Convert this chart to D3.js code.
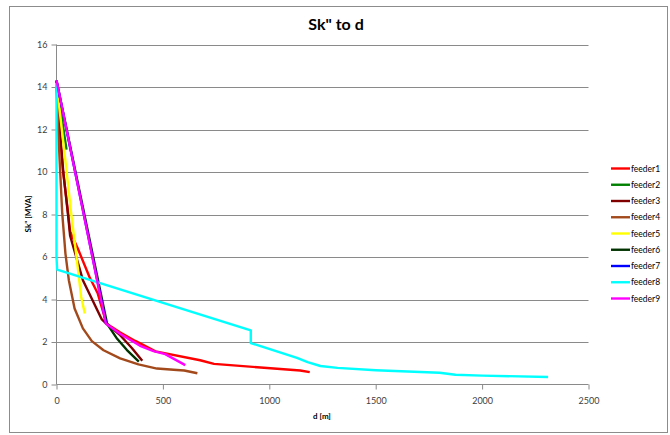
<!DOCTYPE html>
<html>
<head>
<meta charset="utf-8">
<script src="https://cdn.jsdelivr.net/npm/d3@7"></script>
<style>
  html, body { margin: 0; padding: 0; background: #fff; }
  svg { display: block; font-family: Lato, "Liberation Sans", sans-serif; }
</style>
</head>
<body>
<svg id="chart" width="670" height="435"></svg>
<script>
// Short-circuit power Sk" [MVA] against distance d [m] along each feeder
const seriesNames = ["feeder1", "feeder2", "feeder3", "feeder4", "feeder5",
                     "feeder6", "feeder7", "feeder8", "feeder9"];

const feeder1 = [[0, 14.2], [12, 12.2], [30, 10.1], [53, 8.2], [64, 7.2], [100, 6.4],
                 [155, 5.06], [194, 4.28], [226, 3.18], [234, 2.87], [300, 2.45],
                 [370, 2.05], [409, 1.85], [465, 1.56], [675, 1.14], [740, 0.97],
                 [1145, 0.66], [1190, 0.58]];
const feeder2 = [[0, 14.3], [24, 12.6], [47, 11.05]];
const feeder3 = [[0, 14.25], [14, 12.2], [32, 10.0], [55, 7.9], [64, 7.0], [124, 4.91],
                 [213, 3.06], [234, 2.87], [299, 2.32], [354, 1.72], [403, 1.12]];
const feeder4 = [[0, 14.0], [8, 12.0], [17, 10.08], [27, 8.05], [42, 6.16], [58, 4.91],
                 [85, 3.58], [124, 2.64], [166, 2.04], [221, 1.61], [299, 1.23],
                 [385, 0.95], [472, 0.75], [566, 0.68], [600, 0.66], [662, 0.53]];
const feeder5 = [[0, 14.2], [47, 10.08], [69, 8.05], [94, 6.0], [116, 4.12], [133, 3.34]];
const feeder6 = [[0, 14.3], [238, 2.85], [285, 2.15], [331, 1.62], [387, 1.08]];
const feeder7 = [[0, 14.3], [233, 2.87]];
const feeder8 = [[0, 14.2], [0, 6.0], [3, 5.41], [913, 2.55], [913, 1.95], [1130, 1.25],
                 [1180, 1.05], [1240, 0.87], [1320, 0.78], [1500, 0.67], [1800, 0.55],
                 [1874, 0.46], [2000, 0.42], [2310, 0.35]];
const feeder9 = [[0, 14.32], [232, 2.87], [300, 2.38], [393, 1.82], [456, 1.57],
                 [511, 1.43], [605, 0.91]];

const seriesData = [feeder1, feeder2, feeder3, feeder4, feeder5,
                    feeder6, feeder7, feeder8, feeder9];
const seriesColors = ["#ff0000", "#008000", "#800000", "#a34a1c", "#ffff00",
                      "#003300", "#0000ff", "#00ffff", "#ff00ff"];

const xTicks = [0, 500, 1000, 1500, 2000, 2500];
const yTicks = [0, 2, 4, 6, 8, 10, 12, 14, 16];

const svg = d3.select("#chart");

// outer chart frame
svg.append("rect")
  .attr("x", 9.5).attr("y", 6.5)
  .attr("width", 658).attr("height", 426)
  .attr("fill", "#fff").attr("stroke", "#8c8c8c").attr("stroke-width", 1);

const x = d3.scaleLinear().domain([0, 2500]).range([56.5, 588.5]);
const y = d3.scaleLinear().domain([0, 16]).range([384.5, 44.5]);

// horizontal gridlines
svg.append("g")
  .selectAll("line")
  .data(yTicks.filter(v => v > 0))
  .join("line")
  .attr("x1", x(0)).attr("x2", x(2500))
  .attr("y1", d => Math.round(y(d)) + 0.5).attr("y2", d => Math.round(y(d)) + 0.5)
  .attr("stroke", "#8a8a8a").attr("stroke-width", 1);

// axes
const yAxis = svg.append("g")
  .attr("transform", `translate(${x(0)},0)`)
  .call(d3.axisLeft(y).tickValues(yTicks).tickSize(5).tickPadding(4).tickFormat(d3.format("d")));
const xAxis = svg.append("g")
  .attr("transform", `translate(0,${y(0)})`)
  .call(d3.axisBottom(x).tickValues(xTicks).tickSize(5).tickPadding(8).tickFormat(d3.format("d")));

[yAxis, xAxis].forEach(g => {
  g.select(".domain").attr("stroke", "#8a8a8a");
  g.selectAll(".tick line").attr("stroke", "#8a8a8a");
  g.selectAll(".tick text").attr("fill", "#404040")
    .style("font-family", "Lato, sans-serif").style("font-size", "9px");
});
xAxis.select(".domain").attr("d", `M${x(0)},0H${x(2500)}`);
yAxis.select(".domain").attr("d", `M0,${y(16)}V${y(0)}`);

// series lines
const line = d3.line().x(d => x(d[0])).y(d => y(d[1]));
svg.append("g")
  .selectAll("path")
  .data(seriesData)
  .join("path")
  .attr("d", line)
  .attr("fill", "none")
  .attr("stroke", (d, i) => seriesColors[i])
  .attr("stroke-width", 2.4)
  .attr("stroke-linejoin", "round");

// title and axis titles
svg.append("text")
  .attr("x", 336).attr("y", 30)
  .attr("text-anchor", "middle")
  .style("font-size", "16px").style("font-weight", "bold").attr("fill", "#000")
  .text("Sk\" to d");

svg.append("text")
  .attr("transform", "translate(31,214) rotate(-90)")
  .attr("text-anchor", "middle")
  .style("font-size", "8px").style("font-weight", "bold").attr("fill", "#000")
  .text("Sk\" [MVA]");

svg.append("text")
  .attr("x", 322).attr("y", 419)
  .attr("text-anchor", "middle")
  .style("font-size", "8px").style("font-weight", "bold").attr("fill", "#000")
  .text("d [m]");

// legend
const legend = svg.append("g")
  .selectAll("g")
  .data(seriesNames)
  .join("g")
  .attr("transform", (d, i) => `translate(611,${168.5 + i * 16.25})`);
legend.append("line")
  .attr("x1", 0).attr("x2", 19).attr("y1", 0).attr("y2", 0)
  .attr("stroke", (d, i) => seriesColors[i]).attr("stroke-width", 2.4);
legend.append("text")
  .attr("x", 20).attr("y", 3)
  .style("font-size", "8.5px").attr("fill", "#000")
  .text(d => d);
</script>
</body>
</html>
